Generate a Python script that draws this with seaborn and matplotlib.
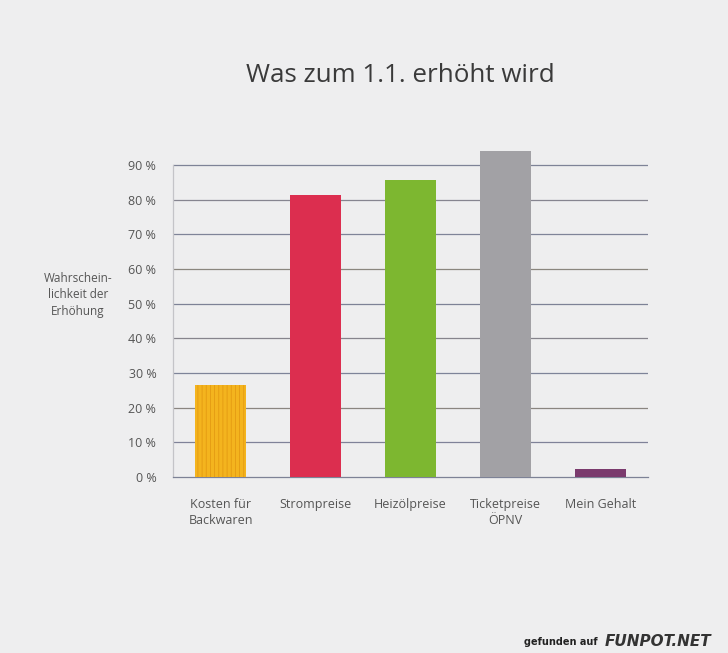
import matplotlib
matplotlib.use("Agg")
import matplotlib.pyplot as plt
import seaborn as sns
import pandas as pd

categories = ["Kosten für\nBackwaren", "Strompreise", "Heizölpreise", "Ticketpreise\nÖPNV", "Mein Gehalt"]
values = [26.5, 81.3, 85.6, 94.0, 2.3]
colors = ["#f4b41e", "#dc2e4f", "#7db730", "#a2a1a5", "#7a3a6d"]
yticks = [0, 10, 20, 30, 40, 50, 60, 70, 80, 90]
ytick_labels = [f"{v} %" for v in yticks]
title = "Was zum 1.1. erhöht wird"
ylabel = "Wahrschein-\nlichkeit der\nErhöhung"

sns.set_style("white")
plt.rcParams["font.family"] = ["Open Sans", "DejaVu Sans"]
plt.rcParams["hatch.linewidth"] = 0.6

bg = "#eeeeef"
fig = plt.figure(figsize=(7.28, 6.53), dpi=100, facecolor=bg)
ax = fig.add_axes([173/728, 1-477/653, (648-173)/728, (477-147.6)/653])
ax.set_facecolor(bg)

df = pd.DataFrame({"cat": categories, "val": values})
sns.barplot(data=df, x="cat", y="val", hue="cat", palette=colors, width=0.54,
            saturation=1, legend=False, ax=ax, zorder=3, linewidth=0)

# texture on first bar
ax.patches[0].set_hatch("||||")
ax.patches[0].set_edgecolor("#e49a12")
ax.patches[0].set_linewidth(0)

ax.set_ylim(0, 95)
ax.set_xlim(-0.5, 4.5)
grid_colors = ["#7f8298", "#8a8580", "#7e8499", "#86848c", "#7d8296", "#8a867e", "#7f8498", "#868590", "#7e8397"]
for v, c in zip(yticks[1:], grid_colors):
    ax.axhline(v, color=c, lw=0.9, zorder=1)

ax.set_yticks(yticks)
ax.set_yticklabels(ytick_labels, color="#555555", fontsize=9)
ax.tick_params(axis="y", length=7, width=0.8, color="#8a8a96", pad=5)
ax.set_xticks(range(5))
ax.set_xticklabels(categories, color="#555555", fontsize=9, linespacing=1.3, va="top")
ax.tick_params(axis="x", which="major", length=0, pad=15)
ax.set_xticks([-0.5, 0.5, 1.5, 2.5, 3.5, 4.5], minor=True)
ax.tick_params(axis="x", which="minor", length=6, width=0.8, color="#8a8a96")

for s in ["top", "right"]:
    ax.spines[s].set_visible(False)
ax.spines["left"].set_color("#c4c4c8")
ax.spines["left"].set_linewidth(0.9)
ax.spines["left"].set_bounds(0, 90)
ax.spines["bottom"].set_color("#7d8296")
ax.spines["bottom"].set_linewidth(0.9)
ax.set_xlabel("")
ax.set_ylabel("")

fig.text(78/728, 1-295/653, ylabel, ha="center", va="center", fontsize=8.5,
         color="#555555", linespacing=1.35)
fig.text(400/728, 1-76/653, title, ha="center", va="center", fontsize=18.7, color="#3a3a3a")

fig.text(598/728, 1-642/653, "gefunden auf", ha="right", va="center", fontsize=7,
         fontweight="bold", color="#222222", family=["DejaVu Sans"])
fig.text(605/728, 1-642/653, "FUNPOT.NET", ha="left", va="center", fontsize=11,
         fontweight="bold", style="italic", color="#333333", family=["DejaVu Sans"])

fig.savefig("out.png", dpi=100, facecolor=bg)
